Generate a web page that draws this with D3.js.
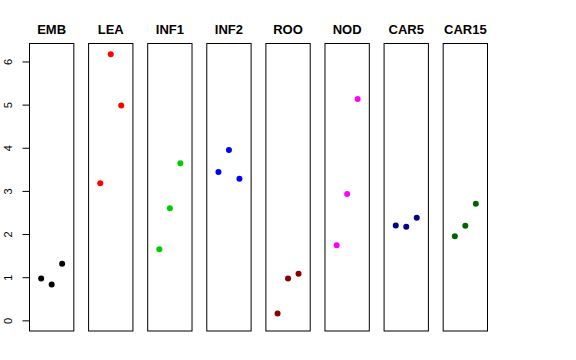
<!DOCTYPE html>
<html>
<head>
<meta charset="utf-8">
<script src="https://cdn.jsdelivr.net/npm/d3@7"></script>
<style>
  body { margin: 0; background: #fff; }
  svg { display: block; font-family: "Liberation Sans", Arial, sans-serif; }
</style>
</head>
<body>
<svg id="chart" width="576" height="360"></svg>
<script>
// tissue groups, one panel each
const tissues = ["EMB", "LEA", "INF1", "INF2", "ROO", "NOD", "CAR5", "CAR15"];
const tissueColors = ["#000000", "#ff0000", "#00cd00", "#0000ff", "#8b0000", "#ff00ff", "#00008b", "#006400"];
// three replicates per tissue
const replicates = [
    [0.97, 0.83, 1.31],
    [3.18, 6.17, 4.98],
    [1.65, 2.60, 3.64],
    [3.44, 3.95, 3.28],
    [0.16, 0.97, 1.08],
    [1.74, 2.93, 5.13],
    [2.20, 2.17, 2.38],
    [1.95, 2.19, 2.70]
];
const yTicks = [0, 1, 2, 3, 4, 5, 6];

const svg = d3.select("#chart");
const plotTop = 43.5, plotBottom = 331;

const panelScale = d3.scaleBand().domain(tissues).range([29, 488]).paddingInner(0.233);

const yMax = d3.max(replicates.flat());
const pad = 0.04 * yMax;
const y = d3.scaleLinear().domain([0 - pad, yMax + pad]).range([plotBottom, plotTop]);

tissues.forEach((t, i) => {
    const left = panelScale(t);
    const w = panelScale.bandwidth();
    const x = d3.scaleLinear().domain([-0.16, 4.16]).range([left, left + w]);
    const g = svg.append("g");

    g.append("rect")
        .attr("x", left + 0.5).attr("y", plotTop)
        .attr("width", w - 1).attr("height", plotBottom - plotTop)
        .attr("fill", "none").attr("stroke", "#000").attr("stroke-width", 1);

    g.append("text")
        .attr("x", left + w / 2).attr("y", 33.5)
        .attr("text-anchor", "middle")
        .attr("font-weight", "bold").attr("font-size", "13px")
        .text(t);

    g.selectAll("circle").data(replicates[i]).enter().append("circle")
        .attr("cx", (d, j) => x(j + 1))
        .attr("cy", d => y(d))
        .attr("r", 3)
        .attr("fill", tissueColors[i]);
});

// y axis only on the first panel
const yAxis = svg.append("g")
    .attr("transform", `translate(${panelScale(tissues[0]) + 0.5},0)`)
    .call(d3.axisLeft(y).tickValues(yTicks).tickFormat(d3.format("d"))
        .tickSize(7).tickPadding(6).tickSizeOuter(0));
yAxis.select(".domain").attr("d", `M0,${y(0)}V${y(6)}`).attr("stroke", "#000");
yAxis.selectAll(".tick line").attr("stroke", "#000");
yAxis.selectAll(".tick text")
    .attr("font-family", "Liberation Sans, Arial, sans-serif")
    .attr("font-size", "11px")
    .attr("fill", "#000")
    .attr("text-anchor", "middle")
    .attr("dy", null)
    .attr("transform", "rotate(-90)")
    .attr("x", 0)
    .attr("y", -18);
</script>
</body>
</html>
